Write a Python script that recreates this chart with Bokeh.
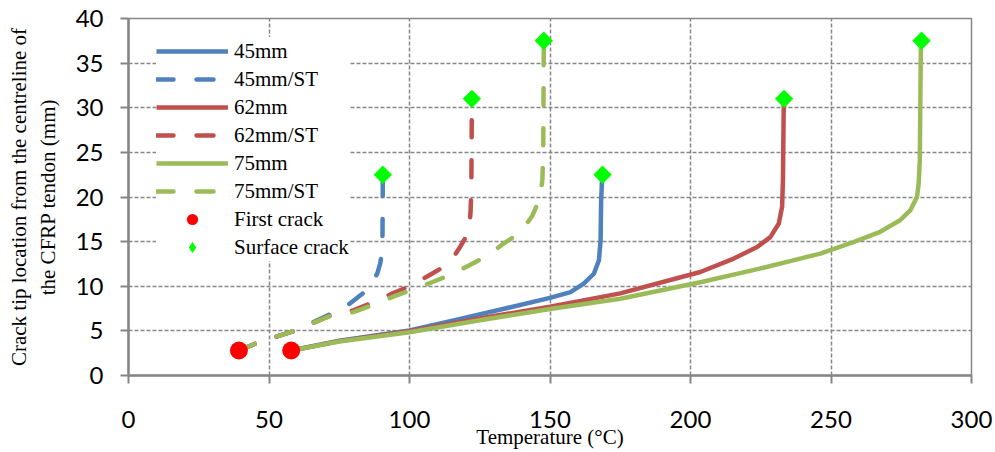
import math
from bokeh.plotting import figure
from bokeh.models import Range1d, Legend, LegendItem, FixedTicker
from bokeh.embed import file_html
from bokeh.resources import INLINE

# ---- data (temperature in °C, crack tip location in mm) ----
t_45 = [58, 75, 100, 118, 136, 150, 157.3, 162.0, 165.6, 167.4, 168.0, 168.2, 168.6]
y_45 = [2.8, 3.9, 5.05, 6.35, 7.65, 8.7, 9.35, 10.3, 11.4, 12.9, 15.1, 19.6, 22.5]

t_45st = [39.3, 45, 52, 59, 65, 72, 78.5, 83.8, 86.5, 88.5, 89.6, 90.3, 90.4, 90.5]
y_45st = [2.8, 3.55, 4.3, 5.0, 5.85, 6.9, 8.0, 9.3, 10.3, 11.4, 12.6, 14.0, 16.0, 22.5]

t_62 = [58, 75, 100, 125, 150, 175, 203.5, 215.4, 223.7, 228.4, 231.4, 232.6, 232.9, 233.2]
y_62 = [2.8, 3.85, 4.95, 6.4, 7.7, 9.2, 11.6, 13.1, 14.4, 15.5, 17.0, 18.9, 21.9, 31.0]

t_62st = [39.3, 45, 52, 59, 65, 72, 80, 87, 94, 100, 106.9, 111.7, 115.5, 117.6, 121.1, 121.7, 122.0, 122.2]
y_62st = [2.8, 3.55, 4.3, 5.0, 5.8, 6.75, 7.3, 8.2, 9.2, 10.0, 11.2, 12.1, 13.2, 14.2, 16.1, 18.2, 20.7, 31.0]

t_75 = [58, 75, 100, 125, 150, 175, 203.5, 225, 239, 246.2, 258, 267.5, 274.6, 278.2, 280.6, 281.2, 281.6, 282.0]
y_75 = [2.8, 3.8, 4.85, 6.2, 7.45, 8.6, 10.45, 12.0, 13.1, 13.65, 14.95, 16.1, 17.4, 18.5, 20.0, 21.5, 24.1, 37.5]

t_75st = [39.3, 45, 52, 59, 65, 72, 80, 87, 94, 100, 108, 114, 121, 127, 133.6, 138.9, 141.5, 143.7, 146.6, 147.3, 147.6, 147.8]
y_75st = [2.8, 3.55, 4.3, 5.0, 5.8, 6.7, 7.1, 7.9, 8.8, 9.5, 10.45, 11.2, 12.3, 13.3, 14.8, 15.9, 16.9, 17.9, 20.0, 22.0, 25.0, 37.5]

first_crack_t = [39.3, 57.9]
first_crack_y = [2.8, 2.8]

surface_crack_t = [90.5, 122.2, 147.8, 168.7, 233.3, 282.2]
surface_crack_y = [22.5, 31.0, 37.5, 22.5, 31.0, 37.5]

x_ticks = [0, 50, 100, 150, 200, 250, 300]
y_ticks = [0, 5, 10, 15, 20, 25, 30, 35, 40]

BLUE = "#4F81BD"
RED = "#C0504D"
GREEN = "#9BBB59"
GRAY = "#868686"
DASH = "17 23"
LW = 4.5

p = figure(width=995, height=452, output_backend="svg", toolbar_location=None,
           x_range=Range1d(0, 300), y_range=Range1d(0, 40),
           min_border_left=128, min_border_right=24, min_border_top=18,
           min_border_bottom=77, background_fill_color="white",
           border_fill_color="white")

p.outline_line_color = GRAY
p.outline_line_width = 1.5

# grid
for g in (p.xgrid, p.ygrid):
    g.grid_line_color = GRAY
    g.grid_line_dash = "4 2"
    g.grid_line_width = 1.5
p.xgrid.ticker = FixedTicker(ticks=x_ticks)
p.ygrid.ticker = FixedTicker(ticks=y_ticks)

# axes
p.xaxis.ticker = FixedTicker(ticks=x_ticks)
p.yaxis.ticker = FixedTicker(ticks=y_ticks)
for ax in (p.xaxis, p.yaxis):
    ax.axis_line_color = GRAY
    ax.axis_line_width = 2.5
    ax.major_tick_line_color = GRAY
    ax.major_tick_line_width = 2
    ax.major_tick_out = 8
    ax.major_tick_in = 0
    ax.minor_tick_line_color = None
    ax.major_label_text_font = "Lato"
    ax.major_label_text_font_size = "24px"
    ax.major_label_text_color = "black"
    ax.axis_label_text_font = "Liberation Serif"
    ax.axis_label_text_font_style = "normal"
    ax.axis_label_text_font_size = "21px"
    ax.axis_label_text_color = "black"

p.xaxis.major_label_standoff = 27
p.xaxis.axis_label = "Temperature (°C)"
p.xaxis.axis_label_standoff = -6
p.yaxis.major_label_standoff = 17
p.yaxis.axis_label = "Crack tip location from the centreline of\nthe CFRP tendon (mm)"
p.yaxis.axis_label_standoff = 13

# lines
r45 = p.line(t_45, y_45, line_color=BLUE, line_width=LW, line_join="round")
r45st = p.line(t_45st, y_45st, line_color=BLUE, line_width=LW, line_dash=DASH,
               line_cap="round", line_join="round")
r62 = p.line(t_62, y_62, line_color=RED, line_width=LW, line_join="round")
r62st = p.line(t_62st, y_62st, line_color=RED, line_width=LW, line_dash=DASH,
               line_cap="round", line_join="round")
r75 = p.line(t_75, y_75, line_color=GREEN, line_width=LW, line_join="round")
r75st = p.line(t_75st, y_75st, line_color=GREEN, line_width=LW, line_dash=DASH,
               line_cap="round", line_join="round")

rfc = p.scatter(first_crack_t, first_crack_y, marker="circle", size=18,
                fill_color="#FF0000", line_color=None)
rsc = p.scatter(surface_crack_t, surface_crack_y, marker="square", size=13,
                angle=math.pi / 4, fill_color="#00FF00", line_color=None)
# legend swatch for the surface crack marker (point lies outside the visible range)
lsc = p.scatter([-50], [-50], marker="diamond", fill_color="#00FF00", line_color=None)

legend = Legend(items=[
    LegendItem(label="45mm", renderers=[r45]),
    LegendItem(label="45mm/ST", renderers=[r45st]),
    LegendItem(label="62mm", renderers=[r62]),
    LegendItem(label="62mm/ST", renderers=[r62st]),
    LegendItem(label="75mm", renderers=[r75]),
    LegendItem(label="75mm/ST", renderers=[r75st]),
    LegendItem(label="First crack", renderers=[rfc]),
    LegendItem(label="Surface crack", renderers=[lsc]),
], location=(28, 114))
legend.label_text_font = "Liberation Serif"
legend.label_text_font_size = "21px"
legend.label_text_color = "black"
legend.glyph_width = 72
legend.glyph_height = 28
legend.label_height = 28
legend.spacing = 0
legend.padding = 5
legend.margin = 0
legend.label_standoff = 6
legend.border_line_color = None
legend.background_fill_color = "white"
legend.background_fill_alpha = 1.0
p.add_layout(legend, "center")

open("out.html", "w").write(file_html(p, INLINE))
